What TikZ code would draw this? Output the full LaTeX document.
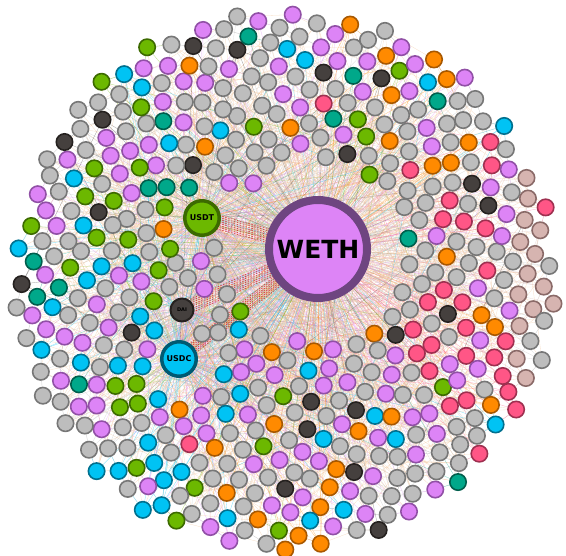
\documentclass[tikz,border=0pt]{standalone}
\usepackage{fontspec}
\setsansfont{DejaVu Sans}
\usetikzlibrary{positioning}

\definecolor{fgray}{HTML}{BDBDBD}   \definecolor{bgray}{HTML}{777777}
\definecolor{fviolet}{HTML}{DD84F6} \definecolor{bviolet}{HTML}{9150A6}
\definecolor{fgreen}{HTML}{6CB800}  \definecolor{bgreen}{HTML}{3C6A00}
\definecolor{fteal}{HTML}{00A88A}   \definecolor{bteal}{HTML}{005E4C}
\definecolor{fcyan}{HTML}{00C3F4}   \definecolor{bcyan}{HTML}{00708E}
\definecolor{forange}{HTML}{FF8A00} \definecolor{borange}{HTML}{A85800}
\definecolor{fdark}{HTML}{45403E}   \definecolor{bdark}{HTML}{25211F}
\definecolor{fpink}{HTML}{FF5686}   \definecolor{bpink}{HTML}{9E3050}
\definecolor{frosy}{HTML}{D6B4B0}   \definecolor{brosy}{HTML}{8A6A68}
\definecolor{wethring}{HTML}{6E4580}
\definecolor{redash}{HTML}{D01010}
\definecolor{peach}{HTML}{F2C49A}

\pgfdeclarelayer{bg}
\pgfsetlayers{bg,main}

% pseudo random value in [0,1) from an index
\newcommand\hsh[1]{(abs(sin((#1)*12.9898+78.233))*43758.5453-floor(abs(sin((#1)*12.9898+78.233))*43758.5453))}

\tikzset{
  tok/.style={circle, inner sep=0pt, minimum size=16.4pt, line width=1.6pt, fill=f#1, draw=b#1},
  hub/.style={circle, inner sep=0pt, font=\sffamily\bfseries, text=black},
  link/.style={line width=0.3pt, draw=f#1, opacity=0.5},
  nbr/.style={line width=0.4pt, draw=f#1!70!gray, opacity=0.55},
  mesh/.style={line width=0.3pt, draw=peach, opacity=0.55},
  dashcl/.style={redash, line width=0.7pt, dash pattern=on 1.5pt off 1.5pt, opacity=0.7},
}

\begin{document}
\begin{tikzpicture}[x=1pt,y=-1pt]
\useasboundingbox (0,0) rectangle (566,556);

% hubs
\node[hub, fill=fviolet, draw=wethring, line width=8pt, minimum size=98pt,
      font={\sffamily\bfseries\fontsize{25}{25}\selectfont}] (weth) at (318,249) {WETH};
\node[hub, fill=fgreen, draw=bgreen, line width=3.5pt, minimum size=34.5pt,
      font={\sffamily\bfseries\fontsize{8}{8}\selectfont}] (usdt) at (202,218) {USDT};
\node[hub, fill=fcyan, draw=bcyan!80!black, line width=3.5pt, minimum size=34.5pt,
      font={\sffamily\bfseries\fontsize{8}{8}\selectfont}] (usdc) at (179,359) {USDC};
\node[hub, fill=fdark, draw=bdark, line width=2pt, minimum size=23pt,
      font={\sffamily\bfseries\fontsize{5}{5}\selectfont}] (dai) at (182,310) {DAI};

% token nodes on a sunflower spiral, slightly shaken
\foreach \k in {1,...,590}{
  \edef\px{\fpeval{round(285+11.3*sqrt(\k)*cosd(137.508*\k)+4*(\hsh{\k+5000}-0.5),2)}}
  \edef\py{\fpeval{round(280+11.3*sqrt(\k)*sind(137.508*\k)+4*(\hsh{\k+6000}-0.5),2)}}
  \edef\keep{\fpeval{(sqrt((\px-318)^2+(\py-249)^2)>90) && (sqrt((\px-202)^2+(\py-218)^2)>32)
     && (sqrt((\px-179)^2+(\py-359)^2)>32) && (sqrt((\px-182)^2+(\py-310)^2)>25)
     && (sqrt((\px-285)^2+(\py-280)^2)<271)}}
  \ifnum\keep=1
    \edef\ur{\fpeval{\hsh{\k}}}
    \edef\zn{\fpeval{((\px>512) && (\py>125) && (\py<380)) ? 3 :
       (((\px>410) && (\py>130) && (\py<410)) ? 2 : ((\px<175) ? 1 : 0))}}
    \ifcase\zn
      \edef\ci{\fpeval{\ur<0.5?0:(\ur<0.74?1:(\ur<0.81?5:(\ur<0.87?6:(\ur<0.92?4:(\ur<0.96?2:(\ur<0.99?3:7))))))}}
    \or
      \edef\ci{\fpeval{\ur<0.36?0:(\ur<0.56?1:(\ur<0.74?2:(\ur<0.87?4:(\ur<0.93?6:(\ur<0.97?3:5)))))}}
    \or
      \edef\ci{\fpeval{\ur<0.4?0:(\ur<0.64?7:(\ur<0.79?1:(\ur<0.87?6:(\ur<0.92?2:(\ur<0.96?5:3)))))}}
    \or
      \edef\ci{\fpeval{\ur<0.45?8:(\ur<0.8?0:(\ur<0.9?1:7))}}
    \fi
    \edef\tcol{\ifcase\ci gray\or violet\or green\or teal\or cyan\or orange\or dark\or pink\or rosy\fi}
    \node[tok=\tcol] (n\k) at (\px,\py) {};
    \expandafter\xdef\csname okn\k\endcsname{\tcol}
  \fi
}

% connectors, all behind the nodes
\begin{pgfonlayer}{bg}
  \draw[brown!70!black, line width=0.8pt, opacity=0.7] (dai) -- (usdc);
  \draw[brown!70!black, line width=0.5pt, opacity=0.5] ([xshift=2pt]dai.center) -- ([xshift=2pt]usdc.center);
  \foreach \k in {1,...,590}{
    \ifcsname okn\k\endcsname
      \edef\tcol{\csname okn\k\endcsname}
      \edef\ua{\fpeval{\hsh{\k+1000}}}
      \edef\ub{\fpeval{\hsh{\k+2000}}}
      \edef\uc{\fpeval{\hsh{\k+3000}}}
      \edef\mfar{\fpeval{floor(\hsh{\k+4000}*\k)+1}}
      \edef\mmid{\fpeval{floor(\hsh{\k+7000}*590)+1}}
      \edef\mlow{\fpeval{floor(\hsh{\k+8000}*590)+1}}
      \edef\ma{\number\numexpr\k-34\relax}
      \edef\mb{\ifnum\k>250 \number\numexpr\k-55\relax\else\number\numexpr\k-21\relax\fi}
      \draw[link=\tcol] (weth) -- (n\k);
      \ifdim\ua pt<0.35pt \draw[link=\tcol] (usdt) -- (n\k); \fi
      \ifdim\ub pt<0.35pt \draw[link=\tcol] (usdc) -- (n\k); \fi
      \ifdim\ua pt>0.8pt \draw[link=\tcol] (dai) -- (n\k); \fi
      \ifcsname okn\ma\endcsname \draw[nbr=\tcol] (n\k) -- (n\ma); \fi
      \ifdim\uc pt<0.6pt \ifcsname okn\mb\endcsname \draw[nbr=\tcol] (n\k) -- (n\mb); \fi\fi
      \ifdim\uc pt>0.4pt \ifcsname okn\mfar\endcsname \draw[link=\tcol] (n\k) -- (n\mfar); \fi\fi
      \ifcsname okn\mmid\endcsname \draw[mesh] (n\k) -- (n\mmid); \fi
      \ifcsname okn\mlow\endcsname \draw[mesh] (n\k) -- (n\mlow); \fi
    \fi
  }
  % red dashed bundles between stablecoins and WETH
  \foreach \o in {-7,-5,...,7}{
    \draw[dashcl] ([yshift=\o pt]usdt.center) -- ([yshift=\o pt]weth.center);
    \draw[dashcl] ([yshift=\o pt]dai.center) -- ([yshift=\o pt]weth.center);
    \draw[dashcl] ([yshift=\o pt]usdc.center) -- ([yshift=\o pt]weth.center);
  }
\end{pgfonlayer}
\end{tikzpicture}
\end{document}
